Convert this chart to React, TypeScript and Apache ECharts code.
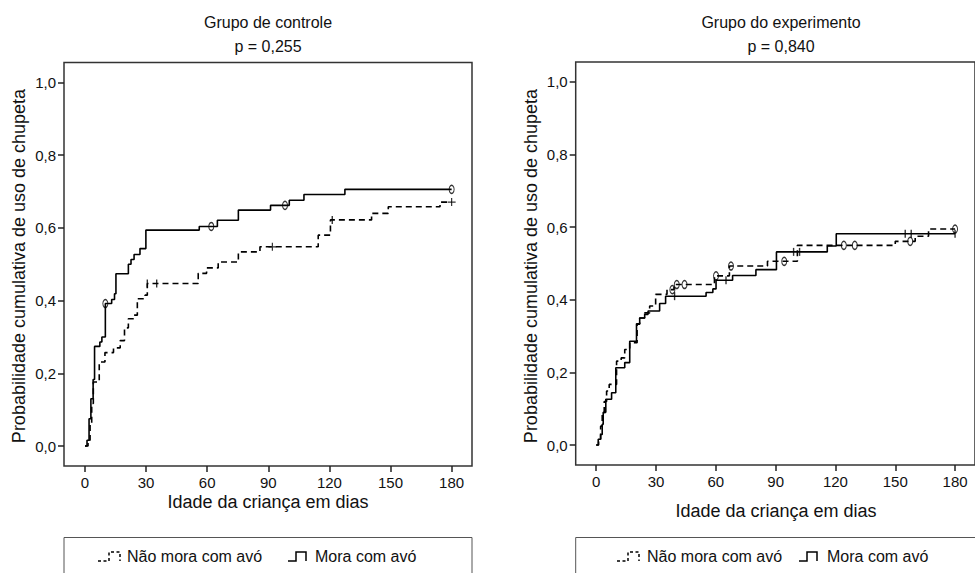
import React, { useEffect, useRef } from "react";
import * as echarts from "echarts";

// ---------- ticks ----------
const xTicks = [0, 30, 60, 90, 120, 150, 180];
const yTicks = [0, 0.2, 0.4, 0.6, 0.8, 1.0];

// ---------- Grupo de controle ----------
const ctrlMoraDays = [0, 1.0, 2.0, 2.9, 4.0, 4.7, 7.3, 8.3, 10.0, 13.1, 14.5, 15.2, 21.3, 22.6, 24.1, 27.0, 29.9, 56.1, 65.0, 75.3, 91.1, 100.3, 107.5, 127.6, 180];
const ctrlMoraVals = [0, 0.016, 0.075, 0.13, 0.183, 0.274, 0.286, 0.3, 0.392, 0.403, 0.419, 0.474, 0.5, 0.513, 0.527, 0.543, 0.594, 0.604, 0.621, 0.649, 0.662, 0.676, 0.692, 0.706, 0.706];
const ctrlMoraCircleDays = [10.0, 62.0, 98.2, 180];
const ctrlMoraCircleVals = [0.392, 0.604, 0.662, 0.706];

const ctrlNaoDays = [0, 1.5, 2.5, 3.3, 4.1, 7.0, 9.8, 14.0, 17.3, 19.4, 21.3, 24.1, 25.7, 29.5, 30.6, 55.6, 59.7, 65.4, 75.3, 85.9, 114.5, 120.5, 140.7, 148.9, 174.3, 180];
const ctrlNaoVals = [0, 0.016, 0.06, 0.117, 0.176, 0.231, 0.257, 0.27, 0.29, 0.325, 0.35, 0.36, 0.405, 0.415, 0.447, 0.475, 0.49, 0.506, 0.534, 0.548, 0.58, 0.622, 0.64, 0.658, 0.671, 0.671];
const ctrlNaoTickDays = [30.6, 35.2, 121.4];
const ctrlNaoTickVals = [0.447, 0.447, 0.622];
const ctrlNaoPlusDays = [92.0, 180];
const ctrlNaoPlusVals = [0.548, 0.671];

// ---------- Grupo do experimento ----------
const expMoraDays = [0, 1.0, 2.2, 3.0, 3.5, 4.8, 7.7, 9.8, 14.3, 16.8, 20.2, 21.8, 24.3, 26.0, 31.8, 34.8, 55.1, 58.5, 60.1, 68.4, 80.1, 90.4, 115.9, 120.4, 180];
const expMoraVals = [0, 0.016, 0.029, 0.057, 0.09, 0.126, 0.144, 0.213, 0.227, 0.286, 0.334, 0.35, 0.36, 0.369, 0.39, 0.41, 0.42, 0.43, 0.454, 0.467, 0.483, 0.532, 0.548, 0.582, 0.582];
const expMoraTickDays = [39.3, 65.1, 99.0, 102.0, 155.0, 158.0, 180];
const expMoraTickVals = [0.41, 0.454, 0.532, 0.532, 0.582, 0.582, 0.582];

const expNaoDays = [0, 1.2, 2.2, 3.0, 4.0, 5.2, 6.5, 10.2, 12.5, 14.3, 16.8, 20.5, 21.8, 24.3, 26.8, 29.8, 35.5, 39.0, 59.3, 66.8, 85.9, 100.9, 150.0, 160.0, 166.7, 180];
const expNaoVals = [0, 0.016, 0.052, 0.089, 0.12, 0.149, 0.167, 0.231, 0.24, 0.263, 0.282, 0.333, 0.35, 0.364, 0.383, 0.415, 0.428, 0.442, 0.466, 0.493, 0.506, 0.55, 0.561, 0.575, 0.595, 0.595];
const expNaoCircleDays = [38.2, 40.4, 44.3, 60.1, 67.6, 94.3, 124.2, 129.7, 157.5, 180];
const expNaoCircleVals = [0.428, 0.442, 0.442, 0.466, 0.493, 0.506, 0.55, 0.55, 0.561, 0.595];

// ---------- texts ----------
const titles = ["Grupo de controle", "Grupo do experimento"];
const pValues = ["p = 0,255", "p = 0,840"];
const yName = "Probabilidade cumulativa de uso de chupeta";
const xName = "Idade da criança em dias";
const legendNames = ["Não mora com avó", "Mora com avó"];

const FONT = '"Liberation Sans", Arial, Helvetica, sans-serif';
const INK = "#111";

const zip = (a: number[], b: number[]) => a.map((v, i) => [v, b[i]]);

const PLUS = "path://M3.4,0 H4.6 V3.4 H8 V4.6 H4.6 V8 H3.4 V4.6 H0 V3.4 H3.4 Z";

function makeAxes(idx: number) {
  const x = {
    type: "value",
    gridIndex: idx,
    min: -10.3,
    max: 190,
    axisLine: { show: false, onZero: false },
    axisTick: { show: true, customValues: xTicks, length: 6, inside: false, lineStyle: { color: "#222", width: 1.5 } },
    axisLabel: { show: true, customValues: xTicks, fontSize: 15, lineHeight: 15, color: INK, fontFamily: FONT, margin: 9 },
    splitLine: { show: false },
  };
  const y = {
    type: "value",
    gridIndex: idx,
    min: -0.055,
    max: 1.055,
    axisLine: { show: false, onZero: false },
    axisTick: { show: true, customValues: yTicks, length: 6, lineStyle: { color: "#222", width: 1.5 } },
    axisLabel: {
      show: true,
      customValues: yTicks,
      fontSize: 15,
      color: INK,
      fontFamily: FONT,
      margin: 8,
      formatter: (v: number) => v.toFixed(1).replace(".", ","),
    },
    splitLine: { show: false },
  };
  return { x, y };
}

function lineSeries(idx: number, days: number[], vals: number[], dashed: boolean) {
  return {
    type: "line",
    xAxisIndex: idx,
    yAxisIndex: idx,
    step: "end",
    data: zip(days, vals),
    symbol: "none",
    silent: true,
    lineStyle: { color: "#000", width: 1.6, type: dashed ? [6, 4] : "solid" },
    z: 3,
  };
}

function circleSeries(idx: number, days: number[], vals: number[]) {
  return {
    type: "scatter",
    xAxisIndex: idx,
    yAxisIndex: idx,
    data: zip(days, vals),
    symbol: "circle",
    symbolSize: [5, 8],
    itemStyle: { color: "rgba(255,255,255,0)", borderColor: "#000", borderWidth: 1.2 },
    z: 4,
    silent: true,
  };
}

function tickSeries(idx: number, days: number[], vals: number[]) {
  return {
    type: "scatter",
    xAxisIndex: idx,
    yAxisIndex: idx,
    data: zip(days, vals),
    symbol: "rect",
    symbolSize: [1.4, 8],
    itemStyle: { color: "#000" },
    z: 4,
    silent: true,
  };
}

function plusSeries(idx: number, days: number[], vals: number[]) {
  return {
    type: "scatter",
    xAxisIndex: idx,
    yAxisIndex: idx,
    data: zip(days, vals),
    symbol: PLUS,
    symbolSize: [8, 8],
    itemStyle: { color: "#000" },
    z: 4,
    silent: true,
  };
}

function txt(text: string, x: number, y: number, size: number, align = "center", rotation = 0) {
  return {
    type: "text",
    x,
    y,
    rotation,
    silent: true,
    style: {
      text,
      x: 0,
      y: 0,
      fill: INK,
      font: `${size}px ${FONT}`,
      textAlign: align,
      textVerticalAlign: "middle",
      align,
      verticalAlign: "middle",
    },
  };
}

function legendIcons(dashX: number, solidX: number, yLow: number, yHigh: number) {
  return [
    {
      type: "polyline",
      silent: true,
      shape: { points: [[dashX, yLow], [dashX + 11, yLow], [dashX + 11, yHigh], [dashX + 22, yHigh], [dashX + 22, yLow]] },
      style: { stroke: "#000", lineWidth: 1.5, lineDash: [3, 2.5], fill: null },
    },
    {
      type: "polyline",
      silent: true,
      shape: { points: [[solidX, yLow], [solidX + 8, yLow], [solidX + 8, yHigh], [solidX + 18, yHigh], [solidX + 18, yLow]] },
      style: { stroke: "#000", lineWidth: 1.5, fill: null },
    },
  ];
}

export default function App() {
  const ref = useRef<HTMLDivElement>(null);
  useEffect(() => {
    if (!ref.current) return;
    const chart = echarts.init(ref.current, null, { renderer: "svg" });
    const a0 = makeAxes(0);
    const a1 = makeAxes(1);
    const option: any = {
      animation: false,
      backgroundColor: "#fff",
      grid: [
        { left: 64, top: 62.5, width: 408, height: 403.5, show: true, borderColor: "#333", borderWidth: 1.5, backgroundColor: "transparent" },
        { left: 575.7, top: 62, width: 401, height: 403, show: true, borderColor: "#333", borderWidth: 1.5, backgroundColor: "transparent" },
      ],
      xAxis: [a0.x, a1.x],
      yAxis: [a0.y, a1.y],
      series: [
        lineSeries(0, ctrlNaoDays, ctrlNaoVals, true),
        lineSeries(0, ctrlMoraDays, ctrlMoraVals, false),
        circleSeries(0, ctrlMoraCircleDays, ctrlMoraCircleVals),
        tickSeries(0, ctrlNaoTickDays, ctrlNaoTickVals),
        plusSeries(0, ctrlNaoPlusDays, ctrlNaoPlusVals),
        lineSeries(1, expNaoDays, expNaoVals, true),
        lineSeries(1, expMoraDays, expMoraVals, false),
        circleSeries(1, expNaoCircleDays, expNaoCircleVals),
        tickSeries(1, expMoraTickDays, expMoraTickVals),
      ],
      graphic: [
        txt(titles[0], 268, 22, 16),
        txt(pValues[0], 268, 46, 16),
        txt(titles[1], 781, 22, 16),
        txt(pValues[1], 781, 46, 16),
        txt(yName, 19, 266, 18, "center", Math.PI / 2),
        txt(yName, 531, 266, 18, "center", Math.PI / 2),
        txt(xName, 268, 502, 18),
        txt(xName, 776, 511, 18),
        {
          type: "rect",
          silent: true,
          shape: { x: 64, y: 537.5, width: 408, height: 60 },
          style: { fill: "none", stroke: "#555", lineWidth: 1 },
        },
        {
          type: "rect",
          silent: true,
          shape: { x: 575.7, y: 537.5, width: 420, height: 60 },
          style: { fill: "none", stroke: "#555", lineWidth: 1 },
        },
        ...legendIcons(98, 288, 561, 552),
        ...legendIcons(617, 799, 561, 552),
        txt(legendNames[0], 127, 556, 16, "left"),
        txt(legendNames[1], 315, 556, 16, "left"),
        txt(legendNames[0], 647, 556, 16, "left"),
        txt(legendNames[1], 827, 556, 16, "left"),
      ],
    };
    chart.setOption(option);
    return () => chart.dispose();
  }, []);
  return <div ref={ref} style={{ position: "absolute", left: 0, top: 0, width: 975, height: 573 }} />;
}
